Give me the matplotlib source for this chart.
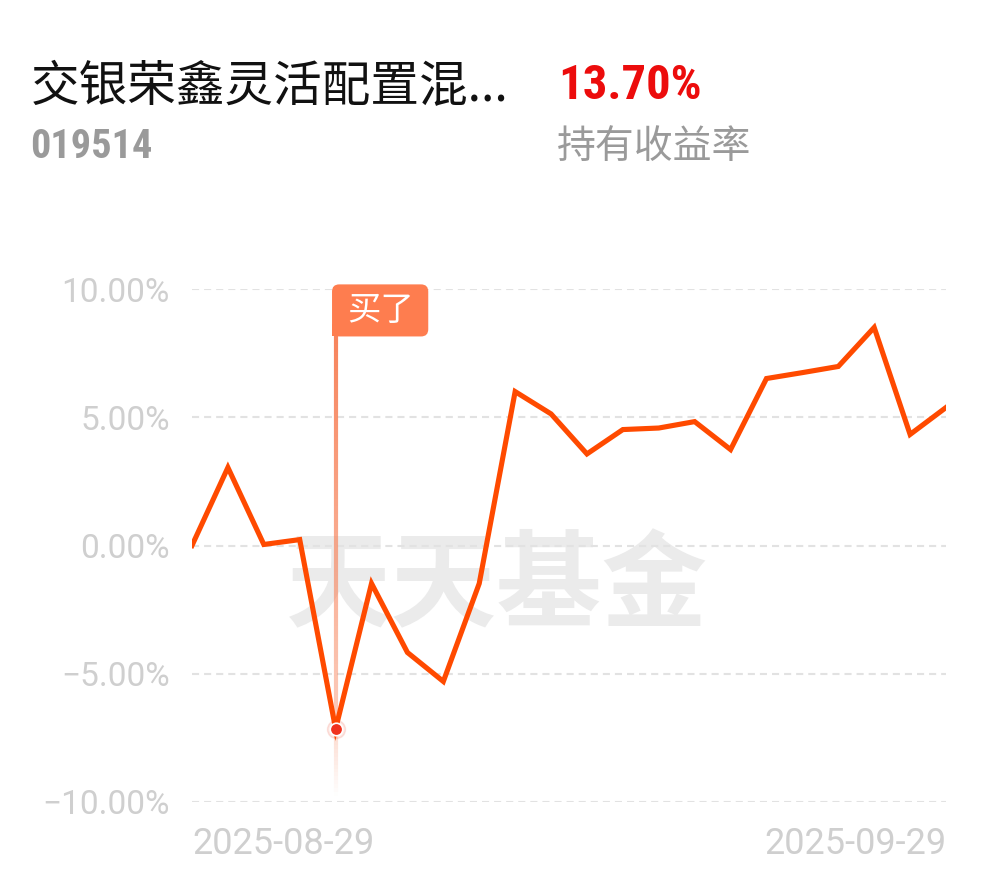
import numpy as np
import matplotlib
matplotlib.use('Agg')
import matplotlib.pyplot as plt
from matplotlib.collections import LineCollection
from matplotlib.patches import FancyBboxPatch, Rectangle

plt.rcParams['font.family'] = ['Noto Sans CJK SC', 'DejaVu Sans']

# holding return (%) per trading day
dates = ['2025-08-29', '2025-09-01', '2025-09-02', '2025-09-03', '2025-09-04',
         '2025-09-05', '2025-09-08', '2025-09-09', '2025-09-10', '2025-09-11',
         '2025-09-12', '2025-09-15', '2025-09-16', '2025-09-17', '2025-09-18',
         '2025-09-19', '2025-09-22', '2025-09-23', '2025-09-24', '2025-09-25',
         '2025-09-26', '2025-09-29']
returns = [0.00, 3.04, 0.04, 0.23, -7.15, -1.48, -4.17, -5.30, -1.48, 6.00,
           5.13, 3.57, 4.52, 4.58, 4.83, 3.74, 6.51, 6.74, 6.98, 8.50,
           4.33, 5.38]
yticks = [-10, -5, 0, 5, 10]
ytick_labels = ['\u221210.00%', '\u22125.00%', '0.00%', '5.00%', '10.00%']
buy_date = '2025-09-04'

fund_name = '交银荣鑫灵活配置混...'
fund_code = '019514'
hold_return = '13.70%'

line_color = '#ff4a00'
marker_color = '#fe7d4f'
narrow = ['Roboto Condensed', 'Roboto', 'DejaVu Sans']

fig = plt.figure(figsize=(9.9, 8.77), dpi=100)
fig.patch.set_facecolor('white')

# header
fig.text(31/990, 1-87/877, fund_name, fontsize=35, color='#111111', ha='left', va='center')
fig.text(30/990, 1-147/877, fund_code, fontsize=29, color='#9a9a9a', weight='bold',
         ha='left', va='center', family=narrow)
fig.text(558/990, 1-86/877, hold_return, fontsize=35, color='#ec0c0c', weight='bold',
         ha='left', va='center', family=narrow)
fig.text(557/990, 1-147/877, '持有收益率', fontsize=28, color='#9a9a9a', ha='left', va='center')

ax = fig.add_axes([192/990, 1-802/877, (946-192)/990, (802-289)/877])
ax.patch.set_visible(False)
x = np.arange(len(dates))

# watermark
ax.text(497/990, 1-588/877, '天天基金', transform=fig.transFigure, fontsize=76,
        weight='bold', color='#ebebeb', ha='center', va='center', zorder=0)

ax.set_xlim(0, len(dates)-1)
ax.set_ylim(-10, 10)
ax.set_yticks(yticks)
ax.set_yticklabels(ytick_labels, family=['Roboto', 'DejaVu Sans'])
ax.tick_params(axis='y', length=0, pad=16, labelsize=24, labelcolor='#cfcfcf')
ax.set_xticks([])
ax.yaxis.grid(True, color='#e2e2e2', linewidth=1.5, linestyle=(0, (3.4, 2.4)))
ax.set_axisbelow(True)
for s in ax.spines.values():
    s.set_visible(False)

# buy marker: fading vertical line
bi = dates.index(buy_date)
top, bottom = 8.15, -9.75
ys = np.linspace(top, bottom, 120)
segs = [[(bi, ys[i]), (bi, ys[i+1])] for i in range(len(ys)-1)]
mid = (ys[:-1] + ys[1:]) / 2
alpha = np.where(mid > returns[bi],
                 1.0 - 0.6*(top - mid)/(top - returns[bi]),
                 0.3*(mid - bottom)/(returns[bi] - bottom))
cols = [matplotlib.colors.to_rgba('#f7845c', a) for a in alpha]
ax.add_collection(LineCollection(segs, colors=cols, linewidths=3.0, zorder=2))

# flag box
box = FancyBboxPatch((bi - 0.1, top), 2.68, 2.03,
                     boxstyle='round,pad=0,rounding_size=0.2', mutation_aspect=1.4,
                     fc=marker_color, ec='none', clip_on=False, zorder=4)
ax.add_patch(box)
ax.add_patch(Rectangle((bi - 0.1, top), 0.4, 0.5, fc=marker_color, ec='none',
                       clip_on=False, zorder=4))
ax.text(bi - 0.1 + 1.34, top + 1.0, '买了', fontsize=24, color='white',
        ha='center', va='center', zorder=5)

ax.plot(x, returns, color=line_color, linewidth=3.7, solid_joinstyle='miter', zorder=3)
ax.plot(bi, returns[bi], 'o', markersize=13, color='#f03c1e', alpha=0.12, zorder=5)
ax.plot(bi, returns[bi], 'o', markersize=9, markerfacecolor='#f0321e',
        markeredgecolor='white', markeredgewidth=1.2, zorder=6)

# first / last date labels
ax.text(0, -11.65, dates[0], fontsize=26, color='#cfcfcf', ha='left', va='center',
        family=['Roboto', 'DejaVu Sans'])
ax.text(len(dates)-1, -11.65, dates[-1], fontsize=26, color='#cfcfcf', ha='right',
        va='center', family=['Roboto', 'DejaVu Sans'])

fig.savefig('out.png', dpi=100)
